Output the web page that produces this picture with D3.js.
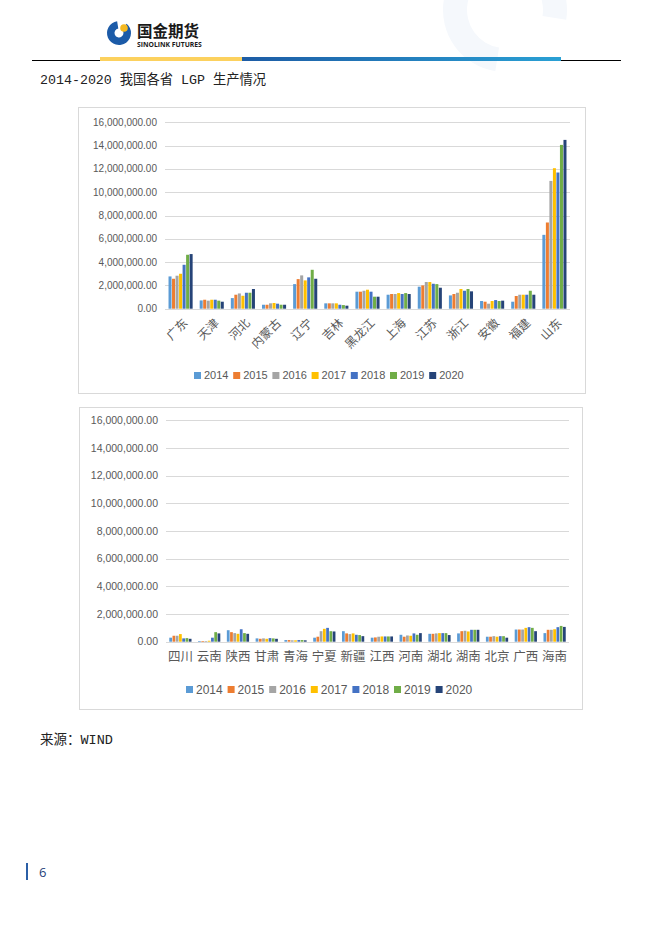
<!DOCTYPE html>
<html><head><meta charset="utf-8">
<script src="https://cdn.jsdelivr.net/npm/d3@7/dist/d3.min.js"></script>
<style>
html,body{margin:0;padding:0;background:#fff;}
svg{display:block;}
</style></head>
<body>
<svg id="page" width="662" height="936"></svg>
<script>
// ---------- DATA ----------
const years = ["2014","2015","2016","2017","2018","2019","2020"];
const colors = ["#5B9BD5","#ED7D31","#A5A5A5","#FFC000","#4472C4","#70AD47","#264478"];
const yTicks = [0,2000000,4000000,6000000,8000000,10000000,12000000,14000000,16000000];

const provinces1 = ["广东","天津","河北","内蒙古","辽宁","吉林","黑龙江","上海","江苏","浙江","安徽","福建","山东"];
const c1_2014 = [2770000,710000,910000,340000,2110000,460000,1460000,1200000,1890000,1140000,660000,600000,6340000];
const c1_2015 = [2570000,770000,1200000,340000,2540000,460000,1460000,1260000,2000000,1260000,600000,1090000,7400000];
const c1_2016 = [2830000,690000,1310000,460000,2860000,460000,1540000,1260000,2290000,1370000,430000,1200000,10970000];
const c1_2017 = [3000000,770000,1110000,490000,2430000,460000,1630000,1340000,2290000,1690000,660000,1200000,12060000];
const c1_2018 = [3770000,770000,1370000,430000,2690000,340000,1460000,1260000,2140000,1540000,740000,1200000,11690000];
const c1_2019 = [4630000,690000,1370000,340000,3340000,310000,1030000,1340000,2110000,1690000,660000,1540000,14060000];
const c1_2020 = [4690000,600000,1690000,340000,2570000,260000,1030000,1260000,1800000,1490000,690000,1200000,14490000];

const provinces2 = ["四川","云南","陕西","甘肃","青海","宁夏","新疆","江西","河南","湖北","湖南","北京","广西","海南"];
const c2_2014 = [290000,50000,830000,240000,120000,290000,760000,290000,500000,570000,600000,360000,880000,620000];
const c2_2015 = [430000,50000,690000,210000,120000,360000,600000,310000,360000,570000,760000,360000,880000,860000];
const c2_2016 = [430000,50000,620000,240000,100000,760000,550000,360000,450000,600000,790000,400000,880000,860000];
const c2_2017 = [550000,70000,570000,210000,100000,930000,600000,380000,430000,620000,740000,360000,1000000,900000];
const c2_2018 = [240000,290000,900000,260000,120000,1000000,500000,380000,600000,620000,860000,400000,1050000,1050000];
const c2_2019 = [260000,690000,620000,240000,120000,760000,480000,380000,500000,620000,860000,400000,1000000,1140000];
const c2_2020 = [210000,600000,570000,210000,100000,740000,400000,380000,620000,480000,860000,290000,760000,1070000];

const series1 = [c1_2014,c1_2015,c1_2016,c1_2017,c1_2018,c1_2019,c1_2020];
const series2 = [c2_2014,c2_2015,c2_2016,c2_2017,c2_2018,c2_2019,c2_2020];

// ---------- PAGE ----------
const svg = d3.select("#page");
const CJK = "'Noto Sans CJK SC','Noto Sans',sans-serif";
const TXT = "#595959";

// watermark
svg.append("path")
  .attr("d", d3.arc()({innerRadius:38, outerRadius:62, startAngle:-Math.PI*0.95, endAngle:Math.PI*0.55}))
  .attr("transform","translate(505,10)")
  .attr("fill","#f5f8fc");

// logo
const logo = svg.append("g").attr("transform","translate(119,33)");
logo.append("path")
  .attr("d", d3.arc()({innerRadius:4.5, outerRadius:12, startAngle:Math.PI*0.22, endAngle:Math.PI*1.95}))
  .attr("fill","#1C5BA8");
logo.append("circle").attr("cx",5).attr("cy",-5).attr("r",3.8).attr("fill","#F5B921");
svg.append("text").attr("x",137).attr("y",36.5).text("国金期货")
  .attr("font-family",CJK).attr("font-weight","bold").attr("font-size",15.5).attr("fill","#1a1a1a");
svg.append("text").attr("x",137).attr("y",47).text("SINOLINK FUTURES")
  .attr("font-family","'Open Sans',sans-serif").attr("font-weight","bold").attr("font-size",6.8).attr("fill","#1a1a1a");

// header rule
svg.append("line").attr("x1",32).attr("x2",621).attr("y1",60.5).attr("y2",60.5).attr("stroke","#000").attr("stroke-width",1);
const defs = svg.append("defs");
const grad = defs.append("linearGradient").attr("id","bg1");
grad.append("stop").attr("offset","0%").attr("stop-color","#1D5CA5");
grad.append("stop").attr("offset","100%").attr("stop-color","#2AA0D4");
svg.append("rect").attr("x",100).attr("y",57).attr("width",142).attr("height",4).attr("fill","#FCD15E");
svg.append("rect").attr("x",242).attr("y",57).attr("width",319).attr("height",4).attr("fill","url(#bg1)");

// title
svg.append("text").attr("x",40).attr("y",84).text("2014-2020 我国各省 LGP 生产情况")
  .attr("font-family","'Liberation Mono','Noto Sans CJK SC',monospace").attr("font-size",13.3).attr("fill","#222");

// source
svg.append("text").attr("x",40).attr("y",744).text("来源：WIND")
  .attr("font-family","'Liberation Mono','Noto Sans CJK SC',monospace").attr("font-size",13.5).attr("fill","#222");

// page number
svg.append("rect").attr("x",26).attr("y",863).attr("width",2).attr("height",17).attr("fill","#2B5FA6");
svg.append("text").attr("x",39).attr("y",877).text("6")
  .attr("font-family","'Open Sans',sans-serif").attr("font-size",13).attr("fill","#1F3F7A");

// ---------- CHART FUNCTION ----------
function drawChart(cfg) {
  const g = svg.append("g");
  g.append("rect").attr("x",cfg.frame[0]+0.5).attr("y",cfg.frame[1]+0.5)
    .attr("width",cfg.frame[2]-cfg.frame[0]).attr("height",cfg.frame[3]-cfg.frame[1])
    .attr("fill","#fff").attr("stroke","#d9d9d9").attr("stroke-width",1);

  const y = d3.scaleLinear().domain([0,16000000]).range([cfg.y0, cfg.y16]);
  const x0 = d3.scaleBand().domain(cfg.cats).range([cfg.xl, cfg.xr]).padding(0);
  const bw = x0.bandwidth();
  const x1 = d3.scaleBand().domain(years).range([bw*0.105, bw*0.895]).padding(0);

  // gridlines
  g.append("g").selectAll("line").data(yTicks).join("line")
    .attr("x1",cfg.xl).attr("x2",cfg.xr)
    .attr("y1",d=>Math.round(y(d))+0.5).attr("y2",d=>Math.round(y(d))+0.5)
    .attr("stroke","#d9d9d9").attr("stroke-width",1);

  // y labels
  g.append("g").selectAll("text").data(yTicks).join("text")
    .attr("x",cfg.xl-8).attr("y",d=>y(d)).attr("dy","0.35em")
    .attr("text-anchor","end").text(d=>d3.format(",.2f")(d))
    .attr("font-family","'Liberation Sans',Arial,sans-serif").attr("font-size",cfg.yfs).attr("fill",TXT);

  // bars
  const groups = g.append("g").selectAll("g").data(cfg.cats).join("g")
    .attr("transform",d=>`translate(${x0(d)},0)`);
  groups.selectAll("rect").data((d,i)=>years.map((yr,k)=>({yr,k,v:cfg.series[k][i]}))).join("rect")
    .attr("x",d=>x1(d.yr)+0.25).attr("width",x1.bandwidth()-0.5)
    .attr("y",d=>y(d.v)).attr("height",d=>y(0)-y(d.v))
    .attr("fill",d=>colors[d.k]);

  // x labels
  const xl = g.append("g").selectAll("text").data(cfg.cats).join("text")
    .text(d=>d).attr("font-family",CJK).attr("fill",TXT).attr("font-size",cfg.xfs);
  if (cfg.rotate) {
    xl.attr("text-anchor","end")
      .attr("transform",d=>`translate(${x0(d)+bw/2+5},${cfg.y0+12}) rotate(-45)`)
      .attr("dy","0.35em");
  } else {
    xl.attr("text-anchor","middle").attr("x",d=>x0(d)+bw/2).attr("y",cfg.y0+19);
  }

  // legend
  const lg = g.append("g").selectAll("g").data(years).join("g")
    .attr("transform",(d,i)=>`translate(${cfg.legX + i*cfg.legStep},${cfg.legY})`);
  lg.append("rect").attr("x",0).attr("y",-3.5).attr("width",7).attr("height",7).attr("fill",(d,i)=>colors[i]);
  lg.append("text").attr("x",10).attr("y",0).attr("dy","0.35em").text(d=>d)
    .attr("font-family","'Liberation Sans',Arial,sans-serif").attr("font-size",cfg.lfs).attr("fill",TXT);
}

drawChart({
  cats: provinces1, series: series1,
  frame: [78,107,585,393],
  xl: 165, xr: 570, y0: 308.7, y16: 122.3,
  yfs: 10, xfs: 12, rotate: true,
  legX: 194, legY: 375.5, legStep: 39.2, lfs: 11
});

drawChart({
  cats: provinces2, series: series2,
  frame: [79,407,582,709],
  xl: 166, xr: 569, y0: 641.7, y16: 420.3,
  yfs: 10.5, xfs: 12.5, rotate: false,
  legX: 186, legY: 689.5, legStep: 41.6, lfs: 12
});
</script>
</body></html>
